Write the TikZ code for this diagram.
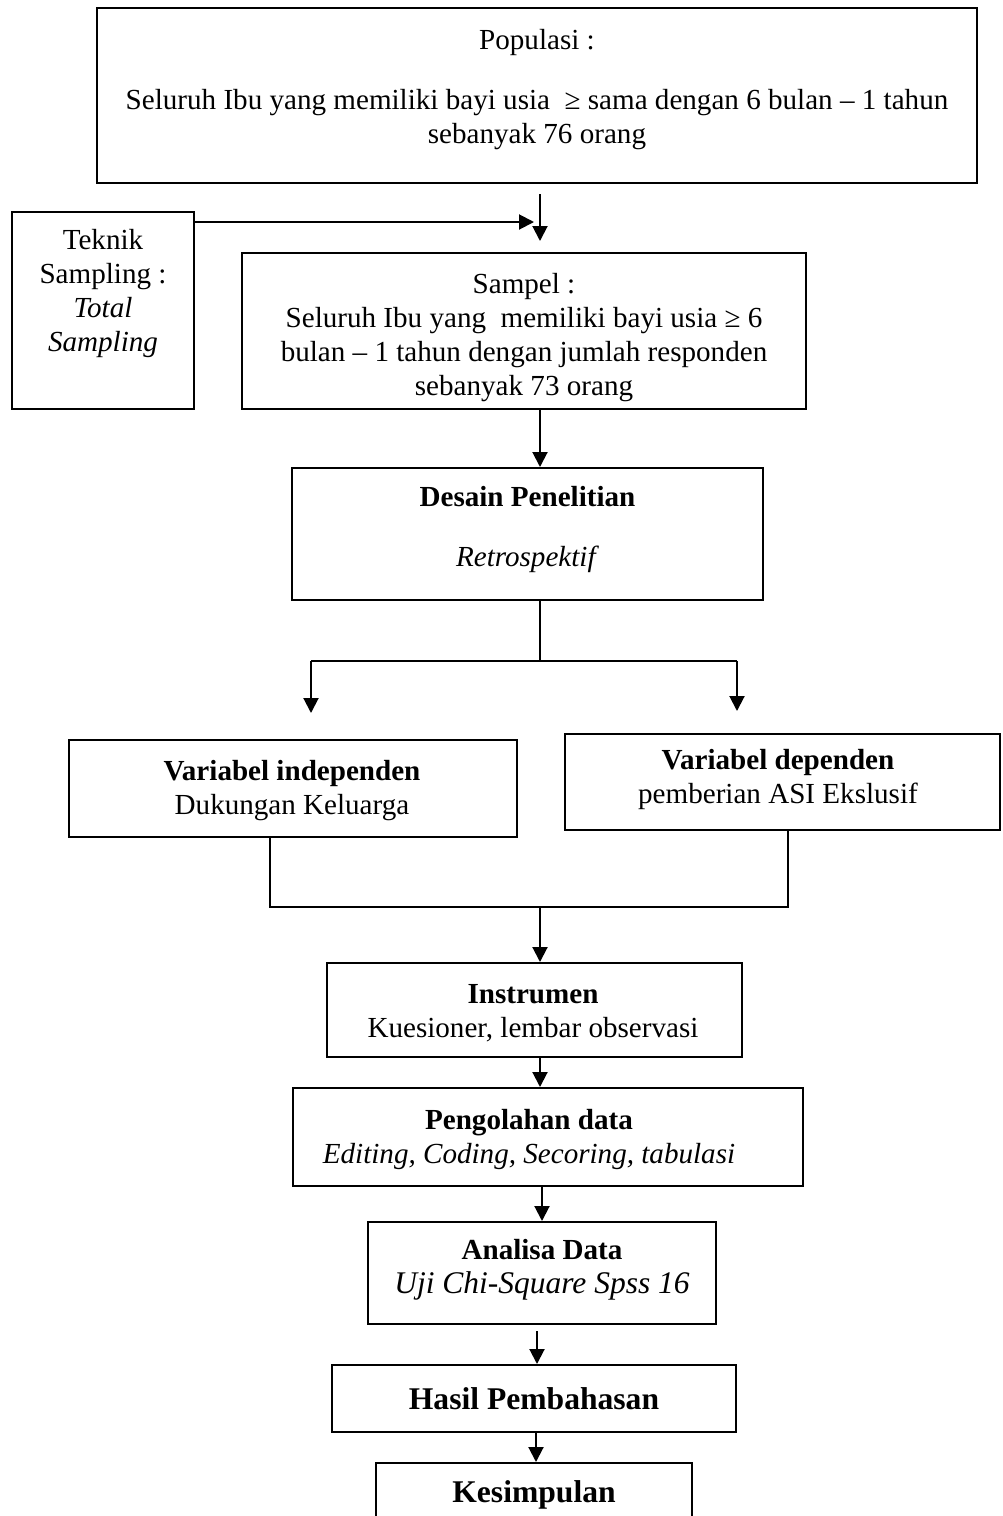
\documentclass[tikz,border=0pt]{standalone}
\usepackage{fontspec}
\setmainfont{Liberation Serif}
\usetikzlibrary{arrows.meta}
\begin{document}
\begin{tikzpicture}[x=1pt,y=-1pt,
  box/.style={draw, line width=2pt, inner sep=0pt},
  txt/.style={align=center, font=\fontsize{29.1pt}{34pt}\selectfont, inner sep=0pt},
  big/.style={align=center, font=\fontsize{31.6pt}{36pt}\selectfont\bfseries, inner sep=0pt},
  arr/.style={line width=2pt, -{Triangle[length=15pt,width=15pt]}},
  ln/.style={line width=1.8pt}]
\useasboundingbox (0,0) rectangle (1003,1516);
% boxes
\node[box, line width=2.5pt, minimum width=880pt, minimum height=175pt] (pop) at (537,95.5) {};
\node[box, minimum width=182pt, minimum height=197pt] (tek) at (103,310.5) {};
\node[box, minimum width=564pt, minimum height=156pt] (sam) at (524,331) {};
\node[box, minimum width=471pt, minimum height=132pt] (des) at (527.5,534) {};
\node[box, minimum width=448pt, minimum height=97pt] (vi) at (293,788.5) {};
\node[box, minimum width=435pt, minimum height=96pt] (vd) at (782.5,782) {};
\node[box, minimum width=415pt, minimum height=94pt] (ins) at (534.5,1010) {};
\node[box, minimum width=510pt, minimum height=98pt] (pen) at (548,1137) {};
\node[box, minimum width=348pt, minimum height=102pt] (ana) at (542,1273) {};
\node[box, minimum width=404pt, minimum height=67pt] (has) at (534,1398.5) {};
\node[box, minimum width=316pt, minimum height=90pt] (kes) at (534,1508) {};
% texts
\node[txt] (popt) at (537,89.5) {Populasi :\\[26pt]Seluruh Ibu yang memiliki bayi usia \ ≥ sama dengan 6 bulan – 1 tahun\\sebanyak 76 orang};
\node[txt] (tekt) at (103,293.5) {Teknik\\Sampling :\\\textit{Total}\\\textit{Sampling}};
\node[txt] (samt) at (524,338) {Sampel :\\Seluruh Ibu yang \ memiliki bayi usia ≥ 6\\bulan – 1 tahun dengan jumlah responden\\sebanyak 73 orang};
\node[txt] (dest) at (527.5,529) {\textbf{Desain Penelitian}\\[26pt]\textit{Retrospektif}};
\node[txt] (vit) at (292,791) {\textbf{Variabel independen}\\Dukungan Keluarga};
\node[txt] (vdt) at (778,779) {\textbf{Variabel dependen}\\pemberian ASI Ekslusif};
\node[txt] (inst) at (533,1013) {\textbf{Instrumen}\\Kuesioner, lembar observasi};
\node[txt] (pent) at (529,1139) {\textbf{Pengolahan data}\\\textit{Editing, Coding, Secoring, tabulasi}};
\node[txt] (anat) at (542,1270) {\textbf{Analisa Data}\\{\fontsize{31.5pt}{36pt}\selectfont\itshape Uji Chi-Square Spss 16}};
\node[big] (hast) at (534,1399) {Hasil Pembahasan};
\node[big] (kest) at (534,1495) {Kesimpulan};
% connectors
\coordinate (c540) at (540,0);
\coordinate (c542) at (542,0);
\coordinate (c537) at (537,0);
\coordinate (c536) at (536,0);
\draw[arr, shorten <=10pt, shorten >=11pt] (pop.south -| c540) -- (sam.north -| c540);
\coordinate (ta) at (534,222);
\draw[arr] (tek.east |- ta) -- (ta);
\draw[arr] (sam.south -| c540) -- (des.north -| c540);
\coordinate (bc) at (540,661);
\coordinate (bl) at (311,661);
\coordinate (brr) at (737,661);
\draw[ln] (des.south -| c540) -- (bc);
\draw[ln] (bl) -- (brr);
\draw[arr, shorten >=26pt] (bl) -- (bl |- vi.north);
\draw[arr, shorten >=22pt] (brr) -- (brr |- vd.north);
\coordinate (ml) at (270,907);
\coordinate (mr) at (788,907);
\coordinate (mc) at (540,907);
\draw[ln] (vi.south -| ml) -- (ml) -- (mr) -- (vd.south -| mr);
\draw[arr] (mc) -- (ins.north -| mc);
\draw[arr] (ins.south -| c540) -- (pen.north -| c540);
\draw[arr] (pen.south -| c542) -- (ana.north -| c542);
\draw[arr, shorten <=6pt] (ana.south -| c537) -- (has.north -| c537);
\draw[arr] (has.south -| c536) -- (kes.north -| c536);
\end{tikzpicture}
\end{document}
